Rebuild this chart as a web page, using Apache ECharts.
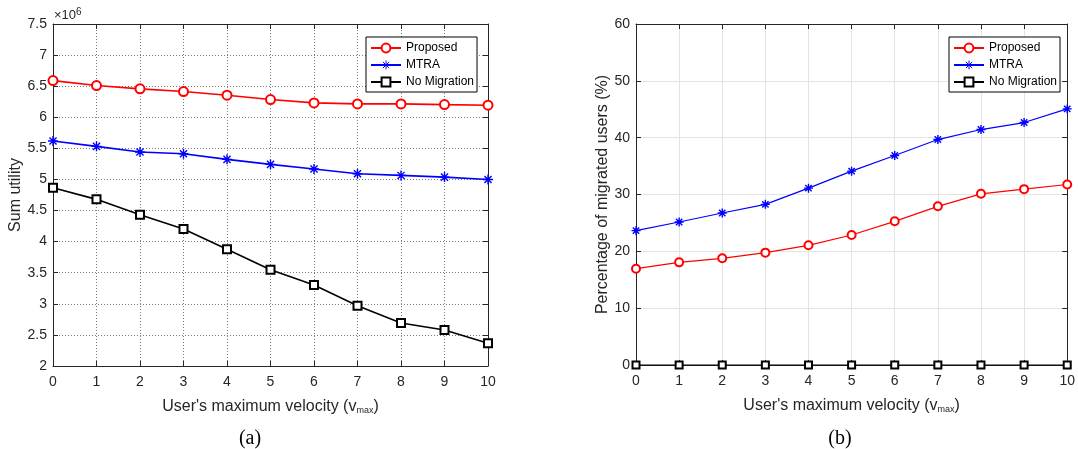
<!DOCTYPE html>
<html><head><meta charset="utf-8">
<script src="https://cdn.jsdelivr.net/npm/echarts@6/dist/echarts.min.js"></script>
<style>html,body{margin:0;padding:0;background:#fff}#c{width:1078px;height:449px}</style>
</head><body><div id="c"></div>
<script>
// ---- data ----
const velocity = [0, 1, 2, 3, 4, 5, 6, 7, 8, 9, 10];
const seriesNames = ['Proposed', 'MTRA', 'No Migration'];
// (a) Sum utility
const utilProposed = [6590000, 6510000, 6457000, 6414000, 6355000, 6285000, 6231000, 6215000, 6215000, 6204000, 6194000];
const utilMTRA     = [5618000, 5532000, 5441000, 5414000, 5323000, 5242000, 5167000, 5091000, 5065000, 5038000, 5000000];
const utilNoMig    = [4866000, 4680000, 4431000, 4202000, 3878000, 3548000, 3303000, 2968000, 2691000, 2580000, 2367000];
// (b) Percentage of migrated users
const pctProposed = [16.95, 18.06, 18.77, 19.77, 21.06, 22.87, 25.28, 27.92, 30.12, 30.94, 31.76];
const pctMTRA     = [23.64, 25.16, 26.74, 28.27, 31.12, 34.11, 36.86, 39.67, 41.43, 42.66, 45.06];
const pctNoMig    = [0, 0, 0, 0, 0, 0, 0, 0, 0, 0, 0];

const pair = (ys) => velocity.map((x, i) => [x, ys[i]]);
const FONT = 'Liberation Sans, Arial, Helvetica, sans-serif';
const AX = '#262626';
const asterisk = 'path://M5,0L5,10M0,5L10,5M1.46,1.46L8.54,8.54M1.46,8.54L8.54,1.46';

const chart = echarts.init(document.getElementById('c'), null, {renderer: 'canvas'});

function mainX(grid, splitStyle) {
  return {
    type: 'value', gridIndex: grid, min: 0, max: 10, interval: 1, position: 'bottom',
    name: "User's maximum velocity (v{s|max})", nameLocation: 'middle', nameGap: 33,
    nameTextStyle: {fontFamily: FONT, fontSize: 16, color: AX,
      rich: {s: {fontFamily: FONT, fontSize: 9, color: AX, verticalAlign: 'bottom', padding: [6, 0, 0, 0]}}},
    axisLine: {show: true, onZero: false, lineStyle: {color: AX, width: 1}},
    axisTick: {show: true, inside: true, length: 5, lineStyle: {color: AX}},
    axisLabel: {fontFamily: FONT, fontSize: 14, color: AX, margin: 9},
    splitLine: {show: true, lineStyle: splitStyle}
  };
}
function boxX(grid) {
  return {
    type: 'value', gridIndex: grid, min: 0, max: 10, interval: 1, position: 'top',
    axisLine: {show: true, onZero: false, lineStyle: {color: AX, width: 1}},
    axisTick: {show: true, inside: true, length: 5, lineStyle: {color: AX}},
    axisLabel: {show: false}, splitLine: {show: false}
  };
}
function mainY(grid, min, max, interval, name, gap, splitStyle, fmt) {
  return {
    type: 'value', gridIndex: grid, min: min, max: max, interval: interval, position: 'left',
    name: name, nameLocation: 'middle', nameGap: gap,
    nameTextStyle: {fontFamily: FONT, fontSize: 16, color: AX},
    axisLine: {show: true, onZero: false, lineStyle: {color: AX, width: 1}},
    axisTick: {show: true, inside: true, length: 5, lineStyle: {color: AX}},
    axisLabel: {fontFamily: FONT, fontSize: 14, color: AX, margin: 6, formatter: fmt},
    splitLine: {show: true, lineStyle: splitStyle}
  };
}
function boxY(grid, min, max, interval) {
  return {
    type: 'value', gridIndex: grid, min: min, max: max, interval: interval, position: 'right',
    axisLine: {show: true, onZero: false, lineStyle: {color: AX, width: 1}},
    axisTick: {show: true, inside: true, length: 5, lineStyle: {color: AX}},
    axisLabel: {show: false}, splitLine: {show: false}
  };
}
function mkSeries(name, data, grid, color, symbol, size, lw) {
  return {
    type: 'line', name: name, data: data, xAxisIndex: grid * 2, yAxisIndex: grid * 2,
    symbol: symbol, symbolSize: size, showAllSymbol: true, clip: false,
    lineStyle: {color: color, width: lw},
    itemStyle: {color: color, borderColor: color, borderWidth: 1.4},
    emphasis: {disabled: true}, animation: false, z: 5
  };
}
function mkLegend(left) {
  return {
    data: seriesNames, orient: 'vertical', left: left, top: 37,
    backgroundColor: '#fff', borderColor: '#000', borderWidth: 1,
    padding: [5, 3, 4, 4], itemGap: 5, itemWidth: 30, itemHeight: 11,
    itemStyle: {borderWidth: 1},
    textStyle: {fontFamily: FONT, fontSize: 12, color: '#000'},
    selectedMode: false
  };
}

const dottedGrid = {color: '#7a7a7a', width: 1, type: [1, 2]};
const solidGrid = {color: '#e3e3e3', width: 1, type: 'solid'};

chart.setOption({
  animation: false,
  backgroundColor: '#fff',
  grid: [
    {left: 53, right: 1078 - 488, top: 24, bottom: 449 - 366, containLabel: false},
    {left: 636, right: 1078 - 1071, top: 24, bottom: 449 - 365, containLabel: false}
  ],
  xAxis: [mainX(0, dottedGrid), boxX(0), mainX(1, solidGrid), boxX(1)],
  yAxis: [
    mainY(0, 2000000, 7500000, 500000, 'Sum utility', 27, dottedGrid, v => String(+(v / 1e6).toFixed(1))),
    boxY(0, 2000000, 7500000, 500000),
    mainY(1, 0, 60, 10, 'Percentage of migrated users (%)', 20, solidGrid, v => String(v)),
    boxY(1, 0, 60, 10)
  ],
  legend: [mkLegend(366), mkLegend(949)],
  series: [
    mkSeries('Proposed', pair(utilProposed), 0, '#ff0000', 'emptyCircle', 9, 1.6),
    mkSeries('MTRA', pair(utilMTRA), 0, '#0000ff', asterisk, 10, 1.6),
    mkSeries('No Migration', pair(utilNoMig), 0, '#000000', 'emptyRect', 8, 1.6),
    mkSeries('Proposed', pair(pctProposed), 1, '#ff0000', 'emptyCircle', 8, 1.2),
    mkSeries('MTRA', pair(pctMTRA), 1, '#0000ff', asterisk, 9, 1.2),
    mkSeries('No Migration', pair(pctNoMig), 1, '#000000', 'emptyRect', 7, 1.2)
  ],
  graphic: [
    {type: 'text', left: 54, top: 7, style: {
      text: '×10{p|6}', font: '13px ' + FONT, fill: AX,
      rich: {p: {fontSize: 10, fontFamily: FONT, fill: AX, verticalAlign: 'top', padding: [0, 0, 6, 0]}}}},
    {type: 'text', x: 250, y: 439, style: {text: '(a)', font: '20px "Liberation Serif", "Times New Roman", serif', fill: '#000', align: 'center', verticalAlign: 'middle'}},
    {type: 'text', x: 840, y: 439, style: {text: '(b)', font: '20px "Liberation Serif", "Times New Roman", serif', fill: '#000', align: 'center', verticalAlign: 'middle'}}
  ]
});
</script></body></html>
